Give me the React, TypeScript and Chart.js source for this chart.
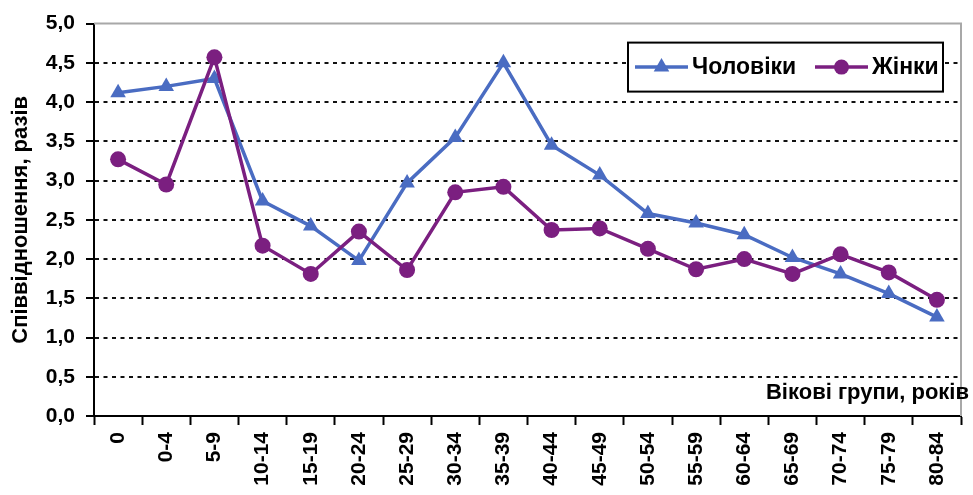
import React, { useEffect, useRef } from "react";
import { Chart, registerables } from "chart.js";

Chart.register(...registerables);

const ageGroups = ["0", "0-4", "5-9", "10-14", "15-19", "20-24", "25-29", "30-34", "35-39", "40-44", "45-49", "50-54", "55-59", "60-64", "65-69", "70-74", "75-79", "80-84"];
const men = [4.12, 4.2, 4.3, 2.74, 2.42, 1.98, 2.97, 3.55, 4.5, 3.45, 3.07, 2.58, 2.46, 2.31, 2.02, 1.81, 1.56, 1.26];
const women = [3.27, 2.95, 4.57, 2.17, 1.81, 2.35, 1.86, 2.85, 2.92, 2.37, 2.39, 2.13, 1.87, 2.0, 1.81, 2.06, 1.83, 1.48];
const seriesNames = ["Чоловіки", "Жінки"];
const yTitle = "Співвідношення, разів";
const xTitle = "Вікові групи, років";

const BLUE = "#4a6cc2";
const PURPLE = "#7b1f80";
const FONT = "Arial, 'Liberation Sans', sans-serif";

const decorPlugin = {
  id: "decor",
  beforeDatasetsDraw(chart: any) {
    const ctx = chart.ctx as CanvasRenderingContext2D;
    const { left, right, top, bottom } = chart.chartArea;
    ctx.save();
    ctx.strokeStyle = "#a8a8a8";
    ctx.lineWidth = 2;
    ctx.beginPath();
    ctx.moveTo(left, top);
    ctx.lineTo(right, top);
    ctx.lineTo(right, bottom);
    ctx.stroke();

    const bx = right - 333;
    const by = top + 19;
    const bw = 315;
    const bh = 49;
    ctx.fillStyle = "#ffffff";
    ctx.fillRect(bx, by, bw, bh);
    ctx.strokeStyle = "#000";
    ctx.lineWidth = 2;
    ctx.strokeRect(bx, by, bw, bh);
    const cy = by + bh / 2;
    const items = [
      { x: bx + 7, color: BLUE, shape: "triangle", text: seriesNames[0] },
      { x: bx + 187, color: PURPLE, shape: "circle", text: seriesNames[1] },
    ];
    items.forEach((it) => {
      ctx.strokeStyle = it.color;
      ctx.lineWidth = 3.5;
      ctx.beginPath();
      ctx.moveTo(it.x, cy);
      ctx.lineTo(it.x + 53, cy);
      ctx.stroke();
      const mx = it.x + 26.5;
      ctx.fillStyle = it.color;
      ctx.beginPath();
      if (it.shape === "circle") {
        ctx.arc(mx, cy, 7.5, 0, Math.PI * 2);
      } else {
        const r = 9;
        ctx.moveTo(mx, cy - r);
        ctx.lineTo(mx + r * Math.sin((2 * Math.PI) / 3), cy - r * Math.cos((2 * Math.PI) / 3));
        ctx.lineTo(mx + r * Math.sin((4 * Math.PI) / 3), cy - r * Math.cos((4 * Math.PI) / 3));
        ctx.closePath();
      }
      ctx.fill();
      ctx.fillStyle = "#000";
      ctx.font = `bold 23px ${FONT}`;
      ctx.textAlign = "left";
      ctx.textBaseline = "middle";
      ctx.fillText(it.text, it.x + 57, cy + 1);
    });
    ctx.restore();
  },
  afterDatasetsDraw(chart: any) {
    const ctx = chart.ctx as CanvasRenderingContext2D;
    const { right, bottom } = chart.chartArea;
    ctx.save();
    ctx.fillStyle = "#000";
    ctx.font = `bold 22px ${FONT}`;
    ctx.textAlign = "right";
    ctx.textBaseline = "middle";
    ctx.fillText(xTitle, right + 8, bottom - 23);
    ctx.restore();
  },
};

export default function App() {
  const ref = useRef<HTMLCanvasElement>(null);

  useEffect(() => {
    document.body.style.margin = "0";
    if (!ref.current) return;
    const chart = new Chart(ref.current, {
      type: "line",
      data: {
        labels: ageGroups,
        datasets: [
          {
            label: seriesNames[0],
            data: men,
            borderColor: BLUE,
            backgroundColor: BLUE,
            borderWidth: 3.5,
            pointStyle: "triangle",
            pointRadius: 9,
            pointBorderWidth: 0,
            pointBackgroundColor: BLUE,
            tension: 0,
            order: 1,
          },
          {
            label: seriesNames[1],
            data: women,
            borderColor: PURPLE,
            backgroundColor: PURPLE,
            borderWidth: 3.5,
            pointStyle: "circle",
            pointRadius: 8,
            pointBorderWidth: 0,
            pointBackgroundColor: PURPLE,
            tension: 0,
            order: 0,
          },
        ],
      },
      options: {
        responsive: false,
        animation: false,
        devicePixelRatio: 1,
        layout: { padding: { top: 19, right: 12, bottom: 0, left: 0 } },
        plugins: {
          legend: { display: false },
          tooltip: { enabled: false },
        },
        scales: {
          x: {
            type: "category",
            offset: true,
            grid: {
              offset: true,
              drawOnChartArea: false,
              drawTicks: true,
              tickLength: 9,
              tickColor: "#000",
              tickWidth: 2,
            },
            border: { display: true, color: "#000", width: 2 },
            ticks: {
              color: "#000",
              font: { family: FONT, size: 21, weight: "bold" },
              minRotation: 90,
              maxRotation: 90,
              padding: 7,
              autoSkip: false,
            },
            afterFit: (scale: any) => {
              scale.height = 79;
            },
          },
          y: {
            min: 0,
            max: 5,
            ticks: {
              stepSize: 0.5,
              color: "#000",
              padding: 11,
              font: { family: FONT, size: 21, weight: "bold" },
              callback: (v: any) => Number(v).toFixed(1).replace(".", ","),
            },
            grid: {
              color: (c: any) => (c.tick && c.tick.value >= 5 ? "rgba(0,0,0,0)" : "#111"),
              lineWidth: 2,
              drawTicks: true,
              tickLength: 8,
              tickColor: "#000",
              tickWidth: 2,
            },
            border: { display: true, color: "#000", width: 2, dash: [4, 4.5] },
            title: {
              display: true,
              text: yTitle,
              color: "#000",
              font: { family: FONT, size: 22, weight: "bold" },
              padding: { top: 8, bottom: 0 },
            },
            afterFit: (scale: any) => {
              scale.width = 94;
            },
          },
        },
      },
      plugins: [decorPlugin],
    });
    return () => chart.destroy();
  }, []);

  return (
    <div style={{ width: 973, height: 495, background: "#fff" }}>
      <canvas ref={ref} width={973} height={495} style={{ display: "block" }} />
    </div>
  );
}
